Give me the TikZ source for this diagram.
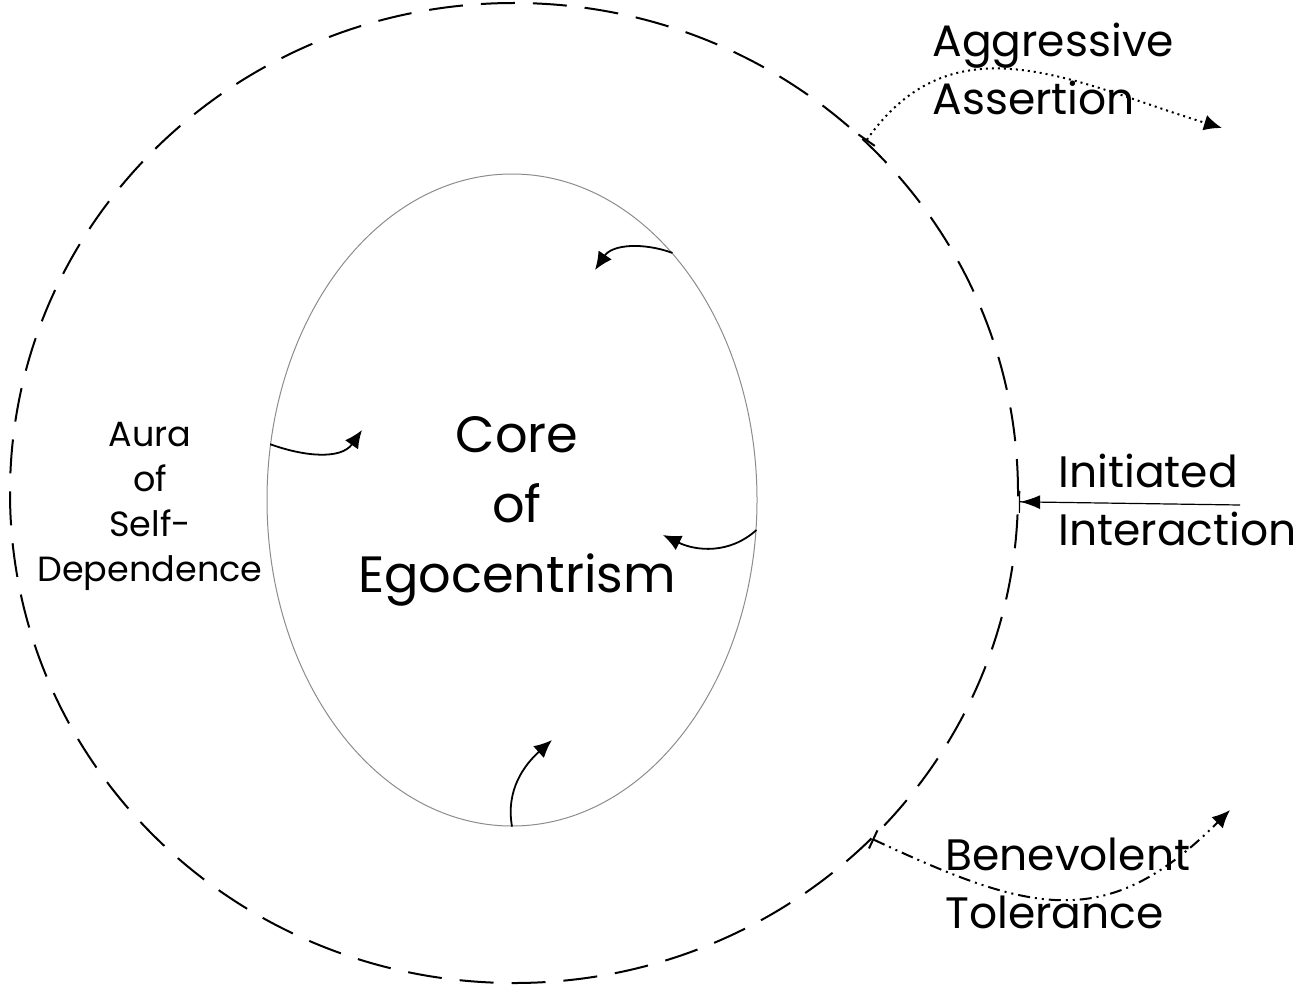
\documentclass[tikz,border=0pt]{standalone}
\usepackage{fontspec}
\setmainfont{Poppins}
\usetikzlibrary{shapes.geometric,arrows.meta,positioning}

\begin{document}
\begin{tikzpicture}[x=0.5pt, y=0.5pt, >={Latex[length=9pt,width=8pt]}]
\tikzstyle{every node}=[inner sep=0pt, text=black]
\tikzstyle{sidetext}=[font=\fontsize{22}{29}\selectfont, align=left, anchor=west]
\tikzstyle{swirl}=[->, line width=0.9pt]
\tikzstyle{outflow}=[{Bar[width=10pt]}-{Latex[length=9pt,width=8pt]}, line width=1pt]
\useasboundingbox (0,0) rectangle (1304,993);

% the two regions
\node[ellipse, draw, dash pattern=on 17pt off 9pt, line width=1pt,
      minimum width=504pt, minimum height=490pt] (aura) at (514,500) {};
\node[ellipse, draw=black!45, line width=0.5pt,
      minimum width=245pt, minimum height=326pt] (core) at (512,493) {};

\node[font=\fontsize{25.5}{35}\selectfont, align=center] (corelbl) at (517,482) {Core\\of\\Egocentrism};
\node[font=\fontsize{17.5}{22.5}\selectfont, align=center] (auralbl) at (150,487) {Aura\\of\\Self-\\Dependence};

% inward curls
\coordinate (t1) at (595,723);
\coordinate (t2) at (362,563);
\coordinate (t3) at (663,458);
\coordinate (t4) at (552,253);
\draw[swirl] (core.57)  to[out=160,in=56]  (t1);
\draw[swirl] (core.167) to[out=-20,in=235] (t2);
\draw[swirl] (core.-7)  to[out=222,in=-26] (t3);
\draw[swirl] (core.270) to[out=100,in=222] (t4);

% outside
\node[sidetext] (aa) at (932,924) {Aggressive\\Assertion};
\node[sidetext] (ii) at (1058,493) {Initiated\\Interaction};
\node[sidetext] (bt) at (945,110) {Benevolent\\Tolerance};

\coordinate (aaend) at (1222,865);
\coordinate (iistart) at (1240,488);
\coordinate (btend) at (1230,183);
\draw[outflow, dash pattern=on 1pt off 2pt] (aura.45) to[out=55,in=163,looseness=1.1] (aaend);
\draw[-{Latex[length=10pt,width=7pt]Bar[width=11pt]}, line width=0.6pt] (iistart) -- (aura.-1.4);
\draw[outflow, dash pattern=on 6pt off 2.5pt on 1pt off 2.5pt on 1pt off 2.5pt]
  (aura.-44) to[out=-25,in=225,looseness=1.25] (btend);
\end{tikzpicture}
\end{document}
